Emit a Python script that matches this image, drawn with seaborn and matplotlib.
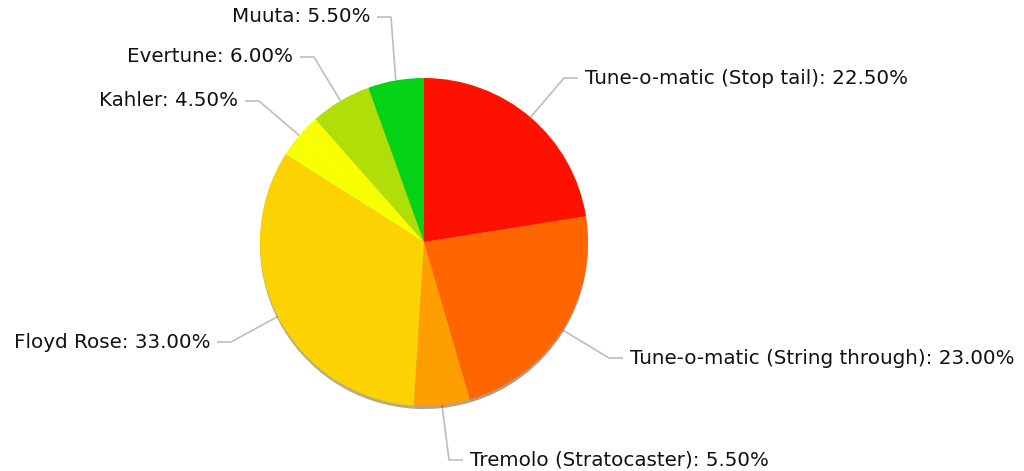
import numpy as np
import matplotlib.pyplot as plt
import seaborn as sns

labels = ["Tune-o-matic (Stop tail)", "Tune-o-matic (String through)",
          "Tremolo (Stratocaster)", "Floyd Rose", "Kahler", "Evertune", "Muuta"]
shares = [22.5, 23.0, 5.5, 33.0, 4.5, 6.0, 5.5]
colors = ["#FF1100", "#FF6600", "#FF9E01", "#FCD202", "#F8FF01", "#B0DE09", "#04D215"]

# label anchor in pixels from top-left (x, y, alignment)
label_pos = [(585, 78, "left"), (630, 358, "left"), (470, 460, "left"),
             (210, 342, "right"), (238, 101, "right"), (293, 57, "right"),
             (370, 17, "right")]

sns.set_theme(style="white")
plt.rcParams["font.family"] = ["DejaVu Sans"]

W, H = 1024, 471
fig = plt.figure(figsize=(W / 100, H / 100), dpi=100)
ax = fig.add_axes([0, 0, 1, 1])

cx, cy, r = 424, H - 242, 164
wedges, _ = ax.pie(shares, colors=sns.color_palette(colors), startangle=90,
                   counterclock=False, center=(cx, cy), radius=r,
                   shadow={"ox": 0, "oy": -2.2, "shade": 0.55},
                   wedgeprops=dict(linewidth=0))
ax.set_xlim(0, W)
ax.set_ylim(0, H)
ax.set_aspect("equal")
ax.axis("off")

for w, lab, val, (tx, ty, ha) in zip(wedges, labels, shares, label_pos):
    ang = np.deg2rad((w.theta1 + w.theta2) / 2)
    ex, ey = cx + r * np.cos(ang), cy + r * np.sin(ang)
    ty = H - ty
    sgn = 1 if ha == "left" else -1
    ax.plot([ex, tx - sgn * 21, tx - sgn * 7], [ey, ty, ty],
            color="#BDBDBD", lw=1.2, solid_capstyle="butt", zorder=0.5)
    ax.text(tx, ty, f"{lab}: {val:.2f}%", ha=ha, va="center",
            fontsize=14.3, color="#111111")

fig.savefig("out.png", dpi=100)
